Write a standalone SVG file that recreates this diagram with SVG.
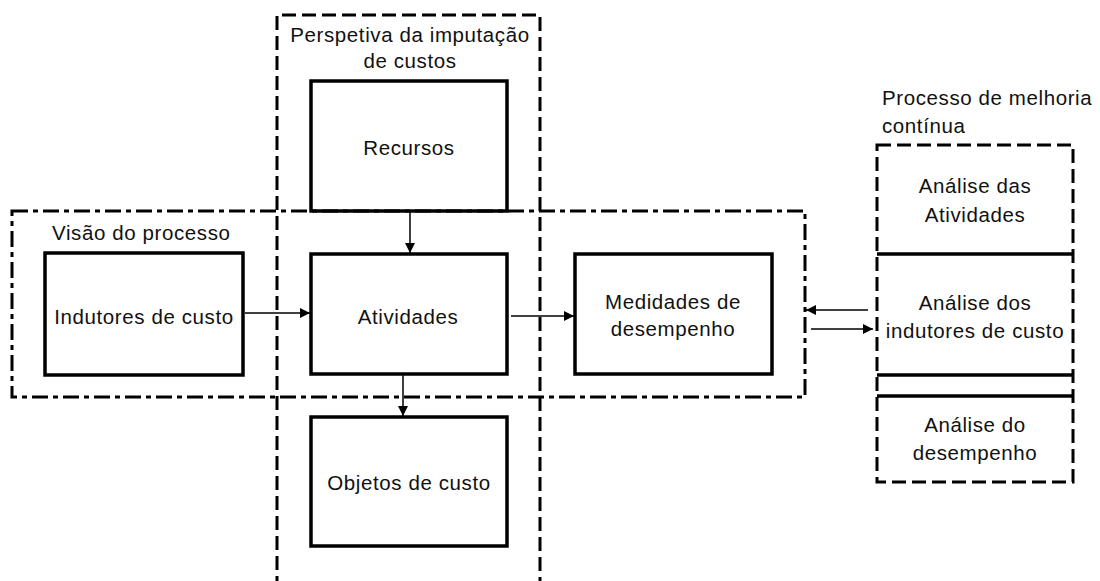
<svg xmlns="http://www.w3.org/2000/svg" width="1100" height="581" viewBox="0 0 1100 581">
<style>
.t{font-family:"Liberation Sans",Arial,sans-serif;font-size:20.5px;letter-spacing:0.6px;fill:#111;}
.c{text-anchor:middle;}
.box{fill:none;stroke:#000;stroke-width:3.5;}
.dash{fill:none;stroke:#000;stroke-width:3;stroke-dasharray:14 6;}
.dd{fill:none;stroke:#000;stroke-width:3;stroke-dasharray:16 5 5 5;}
.solid{stroke:#000;stroke-width:3.5;}
.conn{stroke:#000;stroke-width:1.5;fill:none;marker-end:url(#ah);}
</style>
<defs>
<marker id="ah" viewBox="0 0 10 10" refX="10" refY="5" markerWidth="10" markerHeight="10" markerUnits="userSpaceOnUse" orient="auto">
<path d="M0,0 L10,5 L0,10 z" fill="#000"/>
</marker>
</defs>
<rect width="1100" height="581" fill="#fff"/>

<g id="perspetiva">
<path class="dash" d="M277,590 V15 H540 V590"/>
<text class="t c" x="410" y="42">Perspetiva da imputação</text>
<text class="t c" x="410" y="68">de custos</text>
</g>

<g id="recursos">
<rect class="box" x="311" y="81" width="196" height="130"/>
<text class="t c" x="409" y="155">Recursos</text>
</g>

<g id="visao">
<rect class="dd" x="12" y="211" width="793" height="186"/>
<text class="t" x="52" y="240">Visão do processo</text>
</g>

<g id="indutores">
<rect class="box" x="45" y="253" width="198" height="122"/>
<text class="t c" x="144" y="324">Indutores de custo</text>
</g>

<g id="atividades">
<rect class="box" x="311" y="254" width="196" height="120"/>
<text class="t c" x="408" y="324">Atividades</text>
</g>

<g id="medidades">
<rect class="box" x="575" y="254" width="197" height="120"/>
<text class="t c" x="673" y="309">Medidades de</text>
<text class="t c" x="673" y="336">desempenho</text>
</g>

<g id="objetos">
<rect class="box" x="311" y="417" width="196" height="129"/>
<text class="t c" x="409" y="490">Objetos de custo</text>
</g>

<g id="melhoria">
<rect class="dash" x="877" y="145" width="196" height="337"/>
<line class="solid" x1="877" y1="254" x2="1073" y2="254"/>
<line class="solid" x1="877" y1="375" x2="1073" y2="375"/>
<line class="solid" x1="877" y1="396" x2="1073" y2="396"/>
<text class="t" x="882" y="105">Processo de melhoria</text>
<text class="t" x="882" y="133">contínua</text>
<text class="t c" x="975" y="193">Análise das</text>
<text class="t c" x="975" y="222">Atividades</text>
<text class="t c" x="975" y="310">Análise dos</text>
<text class="t c" x="975" y="338">indutores de custo</text>
<text class="t c" x="975" y="432">Análise do</text>
<text class="t c" x="975" y="460">desempenho</text>
</g>

<g id="connectors">
<line class="conn" x1="245" y1="313" x2="310" y2="313"/>
<line class="conn" x1="410" y1="212" x2="410" y2="253"/>
<line class="conn" x1="403" y1="375" x2="403" y2="416"/>
<line class="conn" x1="511" y1="316" x2="574" y2="316"/>
<line class="conn" x1="868" y1="310" x2="806" y2="310"/>
<line class="conn" x1="811" y1="329" x2="873" y2="329"/>
</g>
</svg>
